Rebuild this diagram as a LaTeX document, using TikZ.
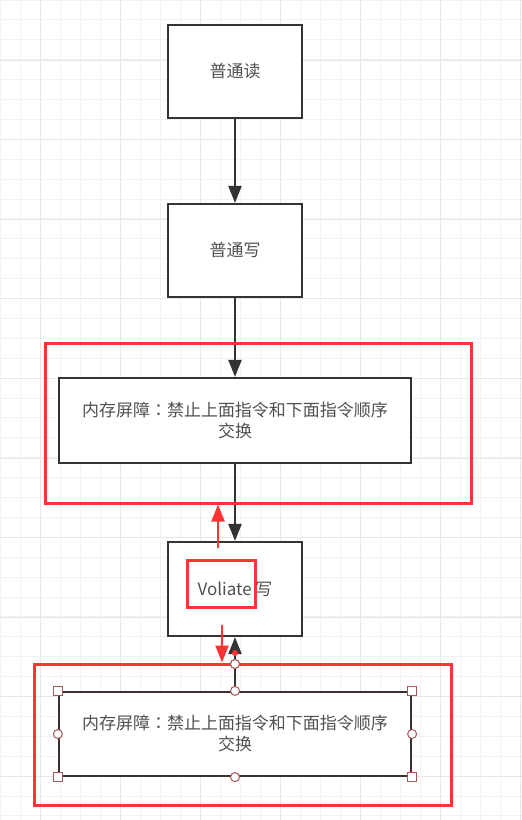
\documentclass[tikz,border=0pt]{standalone}
\usepackage{fontspec}
\setmainfont{Noto Sans CJK SC}
\newfontfamily\tcfont{Noto Sans CJK TC}
\usetikzlibrary{arrows.meta}
\definecolor{boxline}{HTML}{333333}
\definecolor{txtgray}{HTML}{505050}
\definecolor{markred}{HTML}{FF3333}
\definecolor{selline}{HTML}{3F3030}
\definecolor{handle}{HTML}{A85656}
\definecolor{gridminor}{HTML}{F2F2F2}
\definecolor{gridmajor}{HTML}{E7E7E7}
\begin{document}
\begin{tikzpicture}[x=1pt, y=-1pt,
    stepbox/.style={draw=boxline, line width=2.2pt, fill=white, text=txtgray,
        font=\fontsize{17}{21}\selectfont, align=center, inner sep=0pt,
        minimum width=134pt, minimum height=93pt},
    widebox/.style={stepbox, minimum width=352pt, minimum height=85pt},
    flow/.style={draw=boxline, line width=2.2pt, -{Triangle[length=17pt,width=13pt]}},
    markbox/.style={draw=markred, line width=3pt, inner sep=0pt},
    markarrow/.style={draw=markred, line width=2.4pt, -{Triangle[length=17pt,width=13pt]}},
    handlesq/.style={draw=handle, fill=white, line width=1pt, inner sep=0pt, minimum size=9pt},
    handlecirc/.style={handlesq, circle}]
    \useasboundingbox (0,0) rectangle (522,820);
    % background grid
    \foreach \x in {0,20,...,520}
        \draw[gridminor, line width=1pt] (\x,0) -- (\x,820);
    \foreach \i in {0,...,41}
        \draw[gridminor, line width=1pt] (0,{\i*19.9}) -- (522,{\i*19.9});
    \foreach \x in {40,120,...,520}
        \draw[gridmajor, line width=1pt] (\x,0) -- (\x,820);
    \foreach \i in {0,...,9}
        \draw[gridmajor, line width=1pt] (0,{60+\i*79.6}) -- (522,{60+\i*79.6});

    % flow
    \node[stepbox] (read) at (235,71.5) {普通读};
    \node[stepbox] (write) at (235,250.5) {普通写};
    \node[widebox] (bar1) at (235,420.5) {内存屏障{\tcfont ：}禁止上面指令和下面指令顺序\\交换};
    \node[stepbox, minimum height=94pt] (vol) at (235,589) {Voliate 写};
    \node[widebox, draw=selline, minimum height=84pt] (bar2) at (235,734) {内存屏障{\tcfont ：}禁止上面指令和下面指令顺序\\交换};

    \draw[flow] (read) -- (write);
    \draw[flow] (write) -- (bar1);
    \draw[flow] (bar1) -- (vol);
    \draw[flow] (bar2) -- (vol);

    % selection handles
    \foreach \a in {north west,north east,south west,south east}
        \node[handlesq] at (bar2.\a) {};
    \foreach \a in {north,south,east,west}
        \node[handlecirc] at (bar2.\a) {};
    \fill[markred] (235,653) circle (3pt);
    \node[handlecirc] (endh) at (235,664) {};

    % red marks
    \node[markbox, minimum width=426pt, minimum height=160pt] (mark1) at (258,423) {};
    \node[markbox, minimum width=417pt, minimum height=141pt] (mark2) at (242.5,734.5) {};
    \node[markbox, minimum width=68pt, minimum height=47pt] (markv) at (221,583.5) {};
    \coordinate (uptail) at (218,548);
    \coordinate (downtail) at (222,625);
    \draw[markarrow] (uptail) -- (uptail |- mark1.south);
    \draw[markarrow] (downtail) -- (downtail |- mark2.north);
    \node[handlecirc] at (endh) {};
\end{tikzpicture}
\end{document}
